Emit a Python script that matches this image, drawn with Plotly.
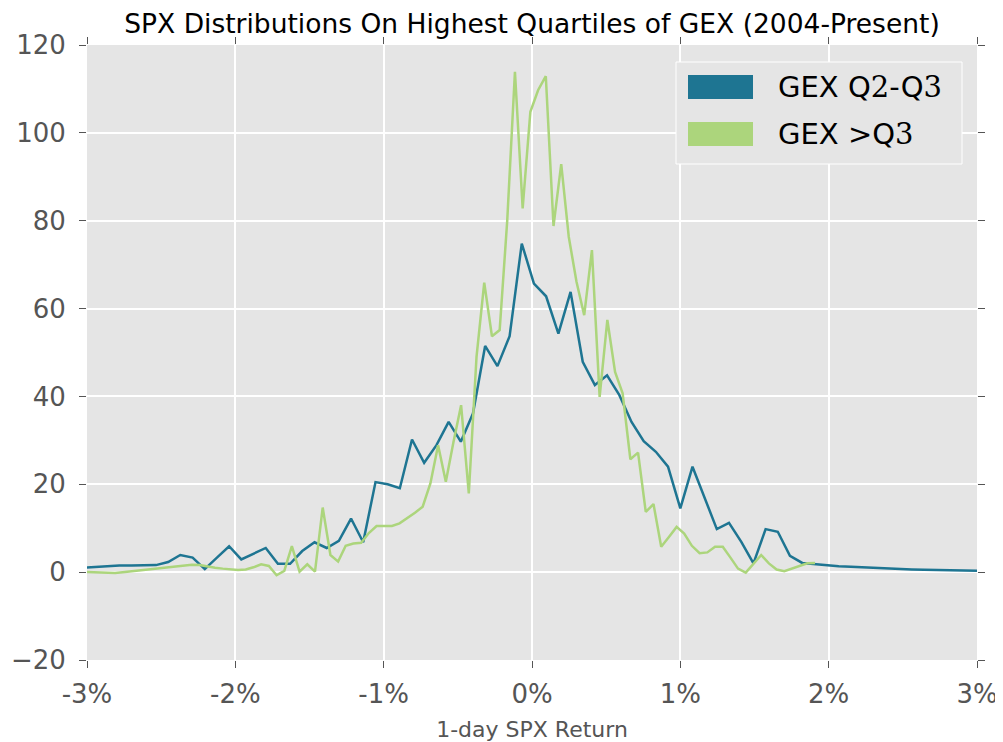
import plotly.graph_objects as go

# 1-day SPX return (%) grid for each series
q23_return = [-3.028, -2.946, -2.864, -2.782, -2.699, -2.617, -2.535, -2.453, -2.371, -2.288,
              -2.206, -2.124, -2.042, -1.960, -1.877, -1.795, -1.713, -1.631, -1.549, -1.466,
              -1.384, -1.302, -1.220, -1.138, -1.055, -0.973, -0.891, -0.809, -0.727, -0.644,
              -0.562, -0.480, -0.398, -0.316, -0.233, -0.151, -0.069, 0.013, 0.095, 0.178,
              0.260, 0.342, 0.424, 0.506, 0.589, 0.671, 0.753, 0.835, 0.917, 1.000,
              1.082, 1.164, 1.246, 1.328, 1.411, 1.493, 1.575, 1.657, 1.739, 1.822,
              1.904, 1.986, 2.068, 2.150, 2.233, 2.315, 2.397, 2.479, 2.561, 2.644,
              2.726, 2.808, 2.890, 2.972, 3.055]
q23_density = [1.0, 1.2, 1.4, 1.5, 1.5, 1.5, 1.6, 2.3, 3.9, 3.3,
               0.7, 3.3, 5.9, 2.9, 4.3, 5.5, 1.9, 1.9, 4.8, 6.8,
               5.5, 7.1, 12.2, 6.8, 20.5, 20.0, 19.1, 30.2, 24.9, 28.9,
               34.2, 29.7, 36.1, 51.5, 46.9, 53.7, 74.8, 65.7, 62.8, 54.3,
               63.8, 47.9, 42.6, 44.8, 40.3, 34.2, 29.8, 27.4, 24.0, 14.5,
               24.0, 16.8, 9.8, 11.2, 6.9, 2.0, 9.8, 9.2, 3.7, 2.1,
               1.8, 1.55, 1.35, 1.2, 1.05, 0.92, 0.8, 0.7, 0.62, 0.54,
               0.47, 0.41, 0.36, 0.32, 0.29]

gtq3_return = [-3.019, -2.967, -2.915, -2.863, -2.811, -2.760, -2.708, -2.656, -2.604, -2.552,
               -2.500, -2.448, -2.396, -2.345, -2.293, -2.241, -2.189, -2.137, -2.085, -2.033,
               -1.982, -1.930, -1.878, -1.826, -1.774, -1.722, -1.670, -1.619, -1.567, -1.515,
               -1.463, -1.411, -1.359, -1.307, -1.256, -1.204, -1.152, -1.100, -1.048, -0.996,
               -0.944, -0.893, -0.841, -0.789, -0.737, -0.685, -0.633, -0.581, -0.530, -0.478,
               -0.426, -0.374, -0.322, -0.270, -0.218, -0.167, -0.115, -0.063, -0.011, 0.041,
               0.093, 0.145, 0.197, 0.248, 0.300, 0.352, 0.404, 0.456, 0.508, 0.560,
               0.611, 0.663, 0.715, 0.767, 0.819, 0.871, 0.923, 0.975, 1.026, 1.078,
               1.130, 1.182, 1.234, 1.286, 1.338, 1.389, 1.441, 1.493, 1.545, 1.597,
               1.649, 1.701, 1.752, 1.804, 1.856, 1.908]
gtq3_density = [0.05, 0.0, -0.1, -0.25, -0.2, 0.0, 0.2, 0.4, 0.6, 0.8,
                0.95, 1.2, 1.45, 1.6, 1.7, 1.6, 1.25, 1.0, 0.8, 0.6,
                0.5, 0.6, 1.1, 1.8, 1.4, -0.7, 0.3, 5.9, 0.1, 1.8,
                0.1, 14.7, 3.9, 2.4, 6.0, 6.5, 6.7, 8.9, 10.5, 10.5,
                10.5, 11.1, 12.2, 13.5, 14.9, 20.2, 28.9, 20.6, 29.5, 38.0,
                17.9, 49.0, 65.9, 53.7, 55.1, 80.0, 113.9, 82.8, 104.8, 109.7,
                112.9, 78.8, 92.9, 76.3, 66.1, 58.5, 73.3, 39.9, 57.4, 45.6,
                40.7, 25.7, 27.2, 13.7, 15.5, 5.8, 8.0, 10.3, 8.8, 6.0,
                4.3, 4.5, 5.8, 5.8, 3.3, 0.8, -0.1, 2.0, 3.9, 2.0,
                0.6, 0.2, 0.8, 1.5, 2.0, 2.1]

DIG = "<span style='font-family:DejaVu Serif'>{}</span>"
series_names = ["GEX Q" + DIG.format("2") + "-Q" + DIG.format("3"),
                "GEX &gt;Q" + DIG.format("3")]
series_colors = ["#1e7592", "#acd57c"]

x_tickvals = [-3, -2, -1, 0, 1, 2, 3]
x_ticktext = ["-3%", "-2%", "-1%", "0%", "1%", "2%", "3%"]
y_tickvals = [-20, 0, 20, 40, 60, 80, 100, 120]

fig = go.Figure()
fig.add_trace(go.Scatter(x=q23_return, y=q23_density, mode="lines",
                         line=dict(color=series_colors[0], width=2.5),
                         name="GEX Q2-Q3", showlegend=False))
fig.add_trace(go.Scatter(x=gtq3_return, y=gtq3_density, mode="lines",
                         line=dict(color=series_colors[1], width=2.5),
                         name="GEX >Q3", showlegend=False))

# page has an 8px body margin; plot area sits at page x 87..977, y 45..660
W, H = 890.0, 615.0
def px(xp):
    return (xp - 87) / W
def py(yp):
    return (660 - yp) / H

shapes = [
    dict(type="rect", xref="paper", yref="paper", x0=px(676), x1=px(962), y0=py(164), y1=py(62),
         fillcolor="#e5e5e5", line=dict(color="white", width=1), layer="above"),
    dict(type="rect", xref="paper", yref="paper", x0=px(688), x1=px(753), y0=py(99), y1=py(75),
         fillcolor=series_colors[0], line=dict(width=0), layer="above"),
    dict(type="rect", xref="paper", yref="paper", x0=px(688), x1=px(753), y0=py(146), y1=py(122),
         fillcolor=series_colors[1], line=dict(width=0), layer="above"),
]
annotations = [
    dict(xref="paper", yref="paper", x=px(776), y=py(87), text=series_names[0], showarrow=False,
         xanchor="left", yanchor="middle", font=dict(family="DejaVu Sans", size=29, color="black")),
    dict(xref="paper", yref="paper", x=px(776), y=py(134), text=series_names[1], showarrow=False,
         xanchor="left", yanchor="middle", font=dict(family="DejaVu Sans", size=29, color="black")),
]

fig.update_layout(
    width=995, height=734,
    margin=dict(l=79, r=26, t=37, b=82, autoexpand=False),
    paper_bgcolor="white", plot_bgcolor="#e5e5e5",
    font=dict(family="DejaVu Sans", color="#555555"),
    title=dict(text="SPX Distributions On Highest Quartiles of GEX (2004-Present)",
               x=0.5, xref="paper", y=1 - 16 / 734, yref="container", yanchor="middle",
               automargin=False,
               font=dict(family="DejaVu Sans", size=26.5, color="black")),
    shapes=shapes, annotations=annotations,
    showlegend=False,
)
fig.update_xaxes(range=[-3, 3], tickvals=x_tickvals, ticktext=x_ticktext,
                 showgrid=True, gridcolor="white", gridwidth=1.5, zeroline=False,
                 ticks="outside", ticklen=7, tickwidth=1, tickcolor="#555555", mirror="ticks",
                 showline=False, tickfont=dict(size=26, color="#555555"),
                 ticklabelstandoff=4, automargin=False,
                 title=dict(text="1-day SPX Return", font=dict(size=22, color="#555555"), standoff=13))
fig.update_yaxes(range=[-20, 120], tickvals=y_tickvals,
                 showgrid=True, gridcolor="white", gridwidth=1.5, zeroline=False,
                 ticks="outside", ticklen=7, tickwidth=1, tickcolor="#555555", mirror="ticks",
                 showline=False, tickfont=dict(size=26, color="#555555"),
                 ticklabelstandoff=8, automargin=False)

fig.write_html("out.html")
